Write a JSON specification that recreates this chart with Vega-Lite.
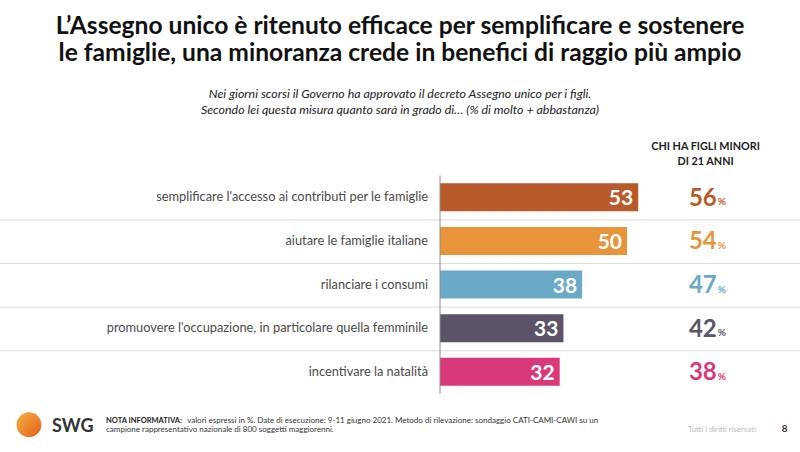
{
  "$schema": "https://vega.github.io/schema/vega-lite/v6.json",
  "width": 800,
  "height": 327,
  "autosize": "none",
  "padding": {"top": 125, "left": 0, "right": 0, "bottom": 0},
  "background": "white",
  "config": {"view": {"stroke": null}, "font": "Lato"},
  "title": {
    "text": ["L’Assegno unico è ritenuto efficace per semplificare e sostenere", "le famiglie, una minoranza crede in benefici di raggio più ampio"],
    "subtitle": ["Nei giorni scorsi il Governo ha approvato il decreto Assegno unico per i figli.", "Secondo lei questa misura quanto sarà in grado di… (% di molto + abbastanza)"],
    "anchor": "middle",
    "frame": "group",
    "font": "Lato",
    "fontSize": 24.6,
    "fontWeight": "bold",
    "lineHeight": 27.5,
    "color": "#111111",
    "subtitleFont": "Lato",
    "subtitleFontSize": 12.4,
    "subtitleFontStyle": "italic",
    "subtitleColor": "#222222",
    "subtitleLineHeight": 16,
    "subtitlePadding": 21,
    "offset": 8
  },
  "data": {
    "values": [
      {"cat": "semplificare l'accesso ai contributi per le famiglie", "row": 1, "pct": 53, "sub": 56},
      {"cat": "aiutare le famiglie italiane", "row": 2, "pct": 50, "sub": 54},
      {"cat": "rilanciare i consumi", "row": 3, "pct": 38, "sub": 47},
      {"cat": "promuovere l'occupazione, in particolare quella femminile", "row": 4, "pct": 33, "sub": 42},
      {"cat": "incentivare la natalità", "row": 5, "pct": 32, "sub": 38}
    ]
  },
  "layer": [
    {
      "transform": [{"filter": "datum.row < 5"}],
      "mark": {"type": "rule", "color": "#dcdcdc", "strokeWidth": 1, "yOffset": 22.5},
      "encoding": {
        "y": {"field": "row", "type": "quantitative", "scale": {"domain": [-0.5444, 6.7222], "reverse": true, "nice": false, "zero": false}, "axis": null},
        "x": {"datum": -117.65, "type": "quantitative", "scale": {"domain": [-117.65, 96.25], "nice": false, "zero": false}, "axis": null},
        "x2": {"datum": 96.25}
      }
    },
    {
      "mark": {"type": "bar", "orient": "horizontal", "size": 28},
      "encoding": {
        "y": {"field": "row", "type": "quantitative"},
        "x": {"field": "pct", "type": "quantitative"},
        "x2": {"datum": 0},
        "color": {"field": "cat", "type": "nominal", "legend": null,
          "scale": {"domain": ["semplificare l'accesso ai contributi per le famiglie", "aiutare le famiglie italiane", "rilanciare i consumi", "promuovere l'occupazione, in particolare quella femminile", "incentivare la natalità"],
                    "range": ["#B95A2B", "#E8943A", "#6AAAC8", "#5B5468", "#D8397A"]}}
      }
    },
    {
      "data": {"values": [{"a": 0}]},
      "mark": {"type": "rule", "color": "#8c8c8c", "strokeWidth": 1},
      "encoding": {
        "x": {"datum": 0, "type": "quantitative"},
        "y": {"datum": 0.5, "type": "quantitative"},
        "y2": {"datum": 5.5}
      }
    },
    {
      "mark": {"type": "text", "align": "right", "baseline": "alphabetic", "dx": -5, "dy": 8, "fontSize": 21, "fontWeight": "bold", "color": "white"},
      "encoding": {
        "y": {"field": "row", "type": "quantitative"},
        "x": {"field": "pct", "type": "quantitative"},
        "text": {"field": "pct", "type": "quantitative"}
      }
    },
    {
      "mark": {"type": "text", "align": "right", "baseline": "middle", "dx": -12, "fontSize": 12.8, "color": "#4a4a4a"},
      "encoding": {
        "y": {"field": "row", "type": "quantitative"},
        "x": {"datum": 0, "type": "quantitative"},
        "text": {"field": "cat", "type": "nominal"}
      }
    },
    {
      "mark": {"type": "text", "align": "right", "baseline": "alphabetic", "dy": 8.5, "fontSize": 24, "fontWeight": "bold"},
      "encoding": {
        "y": {"field": "row", "type": "quantitative"},
        "x": {"datum": 74, "type": "quantitative"},
        "text": {"field": "sub", "type": "quantitative"},
        "color": {"field": "cat", "type": "nominal"}
      }
    },
    {
      "mark": {"type": "text", "align": "left", "baseline": "alphabetic", "dy": 8, "dx": 1, "fontSize": 10, "fontWeight": "bold", "text": "%"},
      "encoding": {
        "y": {"field": "row", "type": "quantitative"},
        "x": {"datum": 74, "type": "quantitative"},
        "color": {"field": "cat", "type": "nominal"}
      }
    },
    {
      "data": {"values": [{"t": "CHI HA FIGLI MINORI"}]},
      "mark": {"type": "text", "align": "center", "baseline": "alphabetic", "fontSize": 10.8, "fontWeight": "bold", "color": "#222222", "lineHeight": 15, "text": ["CHI HA FIGLI MINORI", "DI 21 ANNI"]},
      "encoding": {
        "x": {"datum": 71, "type": "quantitative"},
        "y": {"datum": -0.08, "type": "quantitative"}
      }
    },
    {
      "data": {"values": [{"t": "logo"}]},
      "mark": {"type": "point", "shape": "circle", "size": 615, "filled": true, "opacity": 1,
        "fill": {"gradient": "linear", "x1": 0, "y1": 0, "x2": 1, "y2": 1, "stops": [{"offset": 0, "color": "#F7B040"}, {"offset": 1, "color": "#E2601C"}]}},
      "encoding": {
        "x": {"datum": -109.9, "type": "quantitative"},
        "y": {"datum": 6.211, "type": "quantitative"}
      }
    },
    {
      "data": {"values": [{"t": "SWG"}]},
      "mark": {"type": "text", "align": "left", "baseline": "alphabetic", "fontSize": 18, "fontWeight": "bold", "color": "#333333", "text": "SWG"},
      "encoding": {
        "x": {"datum": -103.75, "type": "quantitative"},
        "y": {"datum": 6.37, "type": "quantitative"}
      }
    },
    {
      "data": {"values": [{"t": "nota"}]},
      "mark": {"type": "text", "align": "left", "baseline": "alphabetic", "fontSize": 7.5, "fontWeight": "bold", "color": "#222222", "text": "NOTA INFORMATIVA:"},
      "encoding": {
        "x": {"datum": -89.3, "type": "quantitative"},
        "y": {"datum": 6.1667, "type": "quantitative"}
      }
    },
    {
      "data": {"values": [{"t": "nota2"}]},
      "mark": {"type": "text", "align": "left", "baseline": "alphabetic", "fontSize": 8, "color": "#333333", "text": "valori espressi in %. Date di esecuzione: 9-11 giugno 2021. Metodo di rilevazione: sondaggio CATI-CAMI-CAWI su un"},
      "encoding": {
        "x": {"datum": -67.6, "type": "quantitative"},
        "y": {"datum": 6.1667, "type": "quantitative"}
      }
    },
    {
      "data": {"values": [{"t": "nota3"}]},
      "mark": {"type": "text", "align": "left", "baseline": "alphabetic", "fontSize": 8, "color": "#333333", "text": "campione rappresentativo nazionale di 800 soggetti maggiorenni."},
      "encoding": {
        "x": {"datum": -89.3, "type": "quantitative"},
        "y": {"datum": 6.389, "type": "quantitative"}
      }
    },
    {
      "data": {"values": [{"t": "diritti"}]},
      "mark": {"type": "text", "align": "left", "baseline": "alphabetic", "fontSize": 7.7, "color": "#bbbbbb", "text": "Tutti i diritti riservati"},
      "encoding": {
        "x": {"datum": 66.3, "type": "quantitative"},
        "y": {"datum": 6.389, "type": "quantitative"}
      }
    },
    {
      "data": {"values": [{"t": "page"}]},
      "mark": {"type": "text", "align": "left", "baseline": "alphabetic", "fontSize": 10, "fontWeight": "bold", "color": "#333333", "text": "8"},
      "encoding": {
        "x": {"datum": 91.4, "type": "quantitative"},
        "y": {"datum": 6.389, "type": "quantitative"}
      }
    }
  ]
}
